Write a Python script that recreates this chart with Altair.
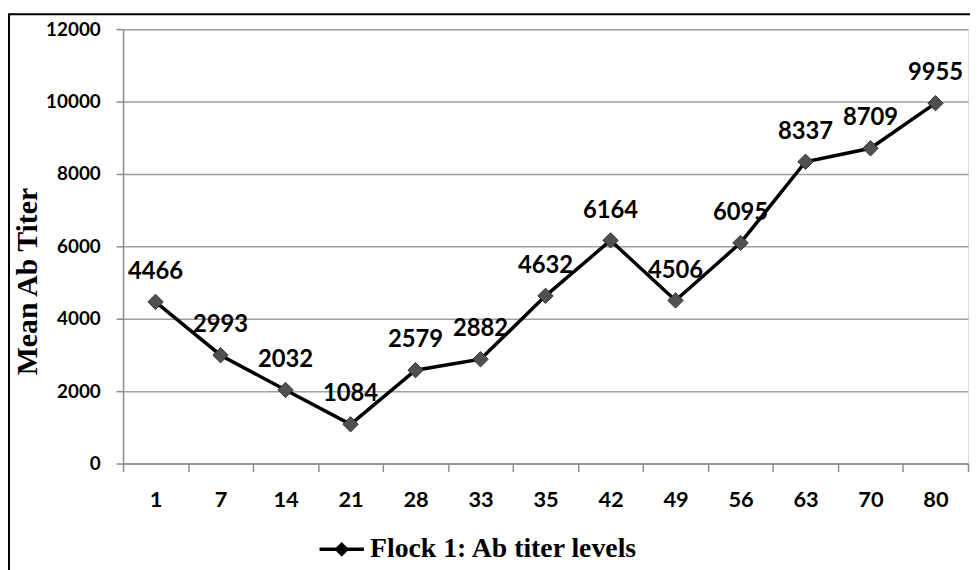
import altair as alt
import pandas as pd

days = ["1", "7", "14", "21", "28", "33", "35", "42", "49", "56", "63", "70", "80"]
titers = [4466, 2993, 2032, 1084, 2579, 2882, 4632, 6164, 4506, 6095, 8337, 8709, 9955]
series_name = "Flock 1: Ab titer levels"

df = pd.DataFrame({"day": days, "titer": titers, "series": [series_name] * len(days)})

W, H = 852, 438
PAD_L, PAD_T = 116, 19

x_enc = alt.X("day:N", sort=days, title=None,
              scale=alt.Scale(paddingInner=0, paddingOuter=0),
              axis=alt.Axis(labelAngle=0, tickBand="extent", labelFont="Lato", labelFontWeight="bold",
                            labelFontSize=22, labelColor="black", labelPadding=18,
                            domainColor="#8c8c8c", domainWidth=1.5, tickColor="#8c8c8c",
                            tickWidth=1.5, tickSize=8, grid=False))
y_enc = alt.Y("titer:Q", title="Mean Ab Titer",
              scale=alt.Scale(domain=[0, 12000], nice=False),
              axis=alt.Axis(values=list(range(0, 12001, 2000)), format="d", labelFont="Lato",
                            labelFontWeight="bold", labelFontSize=19, labelColor="black",
                            labelPadding=16, tickColor="#8c8c8c", tickWidth=1.5, tickSize=7,
                            domainColor="#8c8c8c", domainWidth=1.5,
                            gridColor="#a0a0a0", gridWidth=1.5,
                            titleFont="Liberation Serif", titleFontSize=30, titleFontWeight="bold",
                            titleColor="black", titleAngle=-90, titleX=-87, titleY=254,
                            titleAlign="center", titleBaseline="alphabetic"))

color_enc = alt.Color("series:N", title=None,
                      scale=alt.Scale(domain=[series_name], range=["#505050"]),
                      legend=alt.Legend(orient="none", legendX=196, legendY=500,
                                        symbolType="M-1,0L1,0M0,-0.22L0.22,0L0,0.22L-0.22,0Z",
                                        symbolSize=2000, symbolStrokeWidth=3.5,
                                        symbolStrokeColor="black", symbolFillColor="#505050",
                                        labelFont="Liberation Serif", labelFontSize=28,
                                        labelFontWeight="bold", labelColor="black",
                                        labelLimit=500, labelOffset=4))

base = alt.Chart(df)

line = base.mark_line(color="black", strokeWidth=3.5).encode(x=x_enc, y=y_enc)
points = base.mark_point(shape="diamond", filled=True, size=240, opacity=1, stroke="#333333",
                         strokeWidth=1).encode(x=x_enc, y=y_enc, color=color_enc)
labels = base.mark_text(dy=-30, font="Lato", fontWeight="bold", fontSize=24,
                        color="black").encode(x=x_enc, y=y_enc, text="titer:Q")

border = alt.Chart(pd.DataFrame({"b": [0]})).mark_rect(fill=None, stroke="black",
                                                        strokeWidth=2).encode(
    x=alt.value(-PAD_L + 1), x2=alt.value(W + 100), y=alt.value(-15), y2=alt.value(H + 200))

chart = alt.layer(border, line, points, labels).properties(
    width=W, height=H, autosize="none",
    padding={"left": PAD_L, "top": PAD_T, "right": 2, "bottom": 105}
).configure_view(stroke=None).configure(background="white")

chart.save("out.html", embed_options={"renderer": "svg", "actions": False})
